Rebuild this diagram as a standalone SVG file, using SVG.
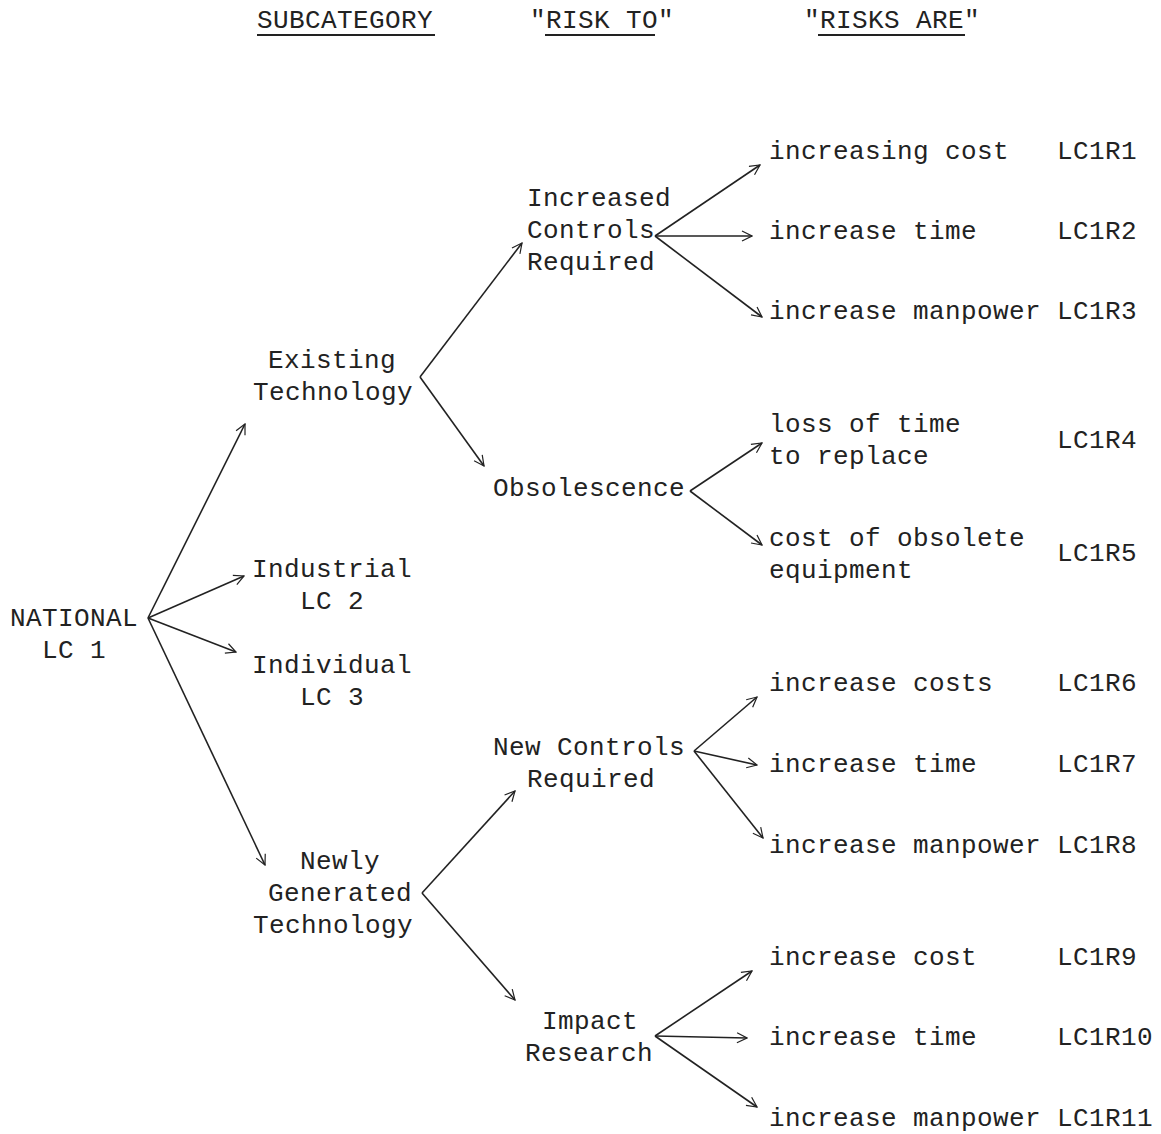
<svg xmlns="http://www.w3.org/2000/svg" width="1161" height="1134" viewBox="0 0 1161 1134">
<defs>
<marker id="ah" viewBox="0 0 12 12" refX="11" refY="6" markerWidth="12" markerHeight="12" markerUnits="userSpaceOnUse" orient="auto">
<path d="M1,1 L11,6 L1,11" fill="none" stroke="#222" stroke-width="1.2"/>
</marker>
<style>
text{font-family:"Liberation Mono","Courier New",monospace;font-size:26px;letter-spacing:0.4px;fill:#222}
.c line{stroke:#222;stroke-width:1.6;fill:none;marker-end:url(#ah)}
.u{stroke:#222;stroke-width:2}
</style>
</defs>
<rect width="1161" height="1134" fill="#fff"/>
<g id="headers">
<text x="257" y="28">SUBCATEGORY</text>
<line class="u" x1="257" y1="35" x2="435" y2="35"/>
<text x="530" y="28">"RISK TO"</text>
<line class="u" x1="545" y1="35" x2="655" y2="35"/>
<text x="804" y="28">"RISKS ARE"</text>
<line class="u" x1="818" y1="35" x2="965" y2="35"/>
</g>
<g id="national"><text x="10" y="626">NATIONAL</text><text x="42" y="658">LC 1</text></g>
<g id="existing"><text x="268" y="368">Existing</text><text x="253" y="400">Technology</text></g>
<g id="industrial"><text x="252" y="577">Industrial</text><text x="300" y="609">LC 2</text></g>
<g id="individual"><text x="252" y="673">Individual</text><text x="300" y="705">LC 3</text></g>
<g id="newly"><text x="300" y="869">Newly</text><text x="268" y="901">Generated</text><text x="253" y="933">Technology</text></g>
<g id="increased-controls"><text x="527" y="206">Increased</text><text x="527" y="238">Controls</text><text x="527" y="270">Required</text></g>
<g id="obsolescence"><text x="493" y="496">Obsolescence</text></g>
<g id="new-controls"><text x="493" y="755">New Controls</text><text x="527" y="787">Required</text></g>
<g id="impact"><text x="542" y="1029">Impact</text><text x="525" y="1061">Research</text></g>
<g id="r1"><text x="769" y="159">increasing cost</text><text x="1057" y="159">LC1R1</text></g>
<g id="r2"><text x="769" y="239">increase time</text><text x="1057" y="239">LC1R2</text></g>
<g id="r3"><text x="769" y="319">increase manpower</text><text x="1057" y="319">LC1R3</text></g>
<g id="r4"><text x="769" y="432">loss of time</text><text x="769" y="464">to replace</text><text x="1057" y="448">LC1R4</text></g>
<g id="r5"><text x="769" y="546">cost of obsolete</text><text x="769" y="578">equipment</text><text x="1057" y="561">LC1R5</text></g>
<g id="r6"><text x="769" y="691">increase costs</text><text x="1057" y="691">LC1R6</text></g>
<g id="r7"><text x="769" y="772">increase time</text><text x="1057" y="772">LC1R7</text></g>
<g id="r8"><text x="769" y="853">increase manpower</text><text x="1057" y="853">LC1R8</text></g>
<g id="r9"><text x="769" y="965">increase cost</text><text x="1057" y="965">LC1R9</text></g>
<g id="r10"><text x="769" y="1045">increase time</text><text x="1057" y="1045">LC1R10</text></g>
<g id="r11"><text x="769" y="1126">increase manpower</text><text x="1057" y="1126">LC1R11</text></g>
<g id="connectors" class="c">
<line x1="148" y1="618" x2="245" y2="424"/>
<line x1="148" y1="618" x2="244" y2="576"/>
<line x1="148" y1="618" x2="236" y2="652"/>
<line x1="148" y1="618" x2="265" y2="865"/>
<line x1="420" y1="377" x2="522" y2="243"/>
<line x1="420" y1="377" x2="484" y2="466"/>
<line x1="655" y1="236" x2="760" y2="165"/>
<line x1="655" y1="236" x2="752" y2="236"/>
<line x1="655" y1="236" x2="762" y2="317"/>
<line x1="690" y1="491" x2="762" y2="443"/>
<line x1="690" y1="491" x2="762" y2="545"/>
<line x1="422" y1="893" x2="515" y2="791"/>
<line x1="422" y1="893" x2="515" y2="1000"/>
<line x1="694" y1="751" x2="757" y2="697"/>
<line x1="694" y1="751" x2="757" y2="765"/>
<line x1="694" y1="751" x2="763" y2="838"/>
<line x1="655" y1="1036" x2="752" y2="971"/>
<line x1="655" y1="1036" x2="747" y2="1038"/>
<line x1="655" y1="1036" x2="757" y2="1107"/>
</g>
</svg>
